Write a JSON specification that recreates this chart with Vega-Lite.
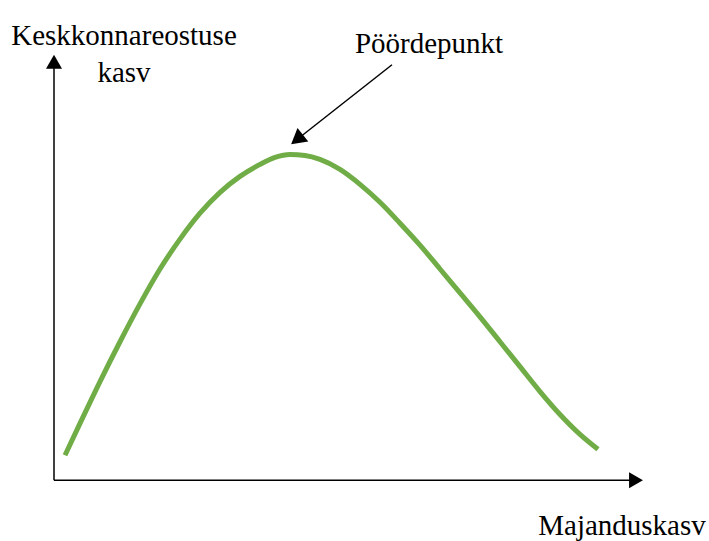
{
  "$schema": "https://vega.github.io/schema/vega-lite/v6.json",
  "width": 709,
  "height": 541,
  "autosize": {"type": "fit", "contains": "padding"},
  "padding": 0,
  "background": "white",
  "config": {"view": {"stroke": null}},
  "datasets": {
    "curve": [
      {"x": 11, "y": 25}, {"x": 26, "y": 57}, {"x": 46, "y": 99}, {"x": 66, "y": 139},
      {"x": 86, "y": 177}, {"x": 106, "y": 212}, {"x": 126, "y": 242}, {"x": 146, "y": 268},
      {"x": 166, "y": 289}, {"x": 186, "y": 305}, {"x": 206, "y": 317}, {"x": 221, "y": 324},
      {"x": 236, "y": 327}, {"x": 251, "y": 326}, {"x": 266, "y": 322}, {"x": 286, "y": 312},
      {"x": 306, "y": 297}, {"x": 326, "y": 279}, {"x": 346, "y": 258}, {"x": 366, "y": 236},
      {"x": 386, "y": 212}, {"x": 406, "y": 188}, {"x": 426, "y": 164}, {"x": 446, "y": 139},
      {"x": 466, "y": 114}, {"x": 486, "y": 89}, {"x": 506, "y": 66}, {"x": 526, "y": 46},
      {"x": 544, "y": 31}
    ],
    "lines": [
      {"x": 0, "y": 0, "x2": 0, "y2": 416},
      {"x": 0, "y": 0, "x2": 582, "y2": 0},
      {"x": 338, "y": 417, "x2": 243, "y2": 342}
    ],
    "heads": [
      {"x": 0, "y": 420, "shape": "triangle-up", "angle": 0, "size": 256},
      {"x": 582, "y": 0, "shape": "triangle-right", "angle": 0, "size": 256},
      {"x": 243, "y": 342, "shape": "triangle-up", "angle": 231.6, "size": 300}
    ],
    "labels": [
      {"x": 70, "y": 437, "text": "Keskkonnareostuse"},
      {"x": 70, "y": 400, "text": "kasv"},
      {"x": 375, "y": 429, "text": "Pöördepunkt"},
      {"x": 568, "y": -55, "text": "Majanduskasv"}
    ]
  },
  "layer": [
    {
      "data": {"name": "lines"},
      "mark": {"type": "rule", "color": "black", "strokeWidth": 1.5},
      "encoding": {
        "x": {"field": "x", "type": "quantitative", "scale": {"domain": [-54, 655], "nice": false, "zero": false}, "axis": null},
        "y": {"field": "y", "type": "quantitative", "scale": {"domain": [-59, 482], "nice": false, "zero": false}, "axis": null},
        "x2": {"field": "x2"},
        "y2": {"field": "y2"}
      }
    },
    {
      "data": {"name": "heads"},
      "mark": {"type": "point", "filled": true, "color": "black", "opacity": 1, "strokeWidth": 0},
      "encoding": {
        "x": {"field": "x", "type": "quantitative"},
        "y": {"field": "y", "type": "quantitative"},
        "shape": {"field": "shape", "type": "nominal", "scale": null},
        "size": {"field": "size", "type": "quantitative", "scale": null},
        "angle": {"field": "angle", "type": "quantitative", "scale": null}
      }
    },
    {
      "data": {"name": "curve"},
      "mark": {"type": "line", "color": "#70AD47", "strokeWidth": 5, "interpolate": "monotone"},
      "encoding": {
        "x": {"field": "x", "type": "quantitative"},
        "y": {"field": "y", "type": "quantitative"}
      }
    },
    {
      "data": {"name": "labels"},
      "mark": {"type": "text", "font": "Liberation Serif", "fontSize": 29, "color": "black", "align": "center", "baseline": "alphabetic"},
      "encoding": {
        "x": {"field": "x", "type": "quantitative"},
        "y": {"field": "y", "type": "quantitative"},
        "text": {"field": "text"}
      }
    }
  ]
}
